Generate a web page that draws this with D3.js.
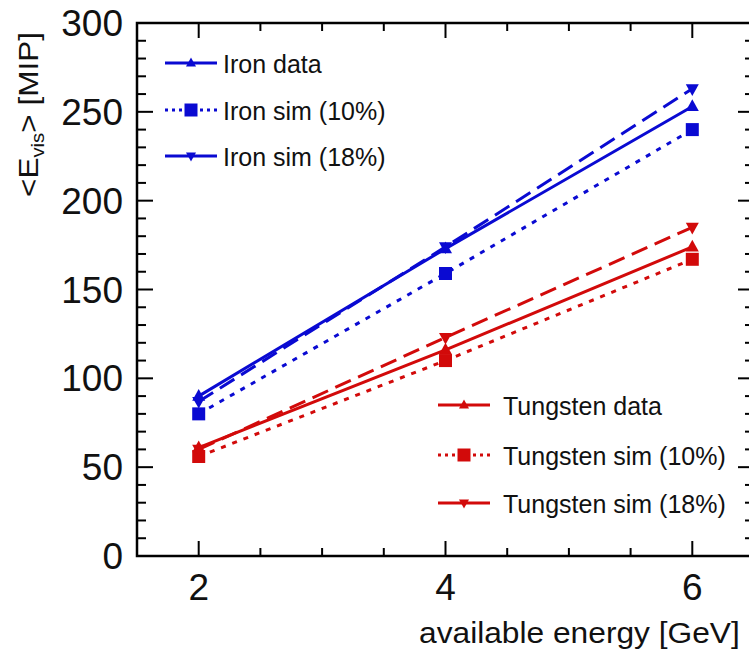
<!DOCTYPE html>
<html>
<head>
<meta charset="utf-8">
<script src="https://cdn.jsdelivr.net/npm/d3@7"></script>
<style>
  html, body { margin: 0; padding: 0; background: #fff; }
  svg { display: block; font-family: "Liberation Sans", Arial, sans-serif; }
</style>
</head>
<body>
<svg id="chart" width="749" height="653"></svg>
<script>
// Beam energies (GeV)
const energies = [2, 4, 6];

// Mean visible energy in MIP
const ironData    = [90, 173, 253];
const ironSim10   = [80, 159, 240];
const ironSim18   = [87, 174, 263];
const tungData    = [61, 116, 174];
const tungSim10   = [56, 110, 167];
const tungSim18   = [60, 123, 185];

const yTicks = [0, 50, 100, 150, 200, 250, 300];
const xTicks = [2, 4, 6];

const blue = "#0a0ad2";
const red = "#d20a0a";

const series = [
  { name: "Iron data",           values: ironData,  color: blue, dash: null,   marker: "up" },
  { name: "Iron sim (10%)",      values: ironSim10, color: blue, dash: "5,7",  marker: "square" },
  { name: "Iron sim (18%)",      values: ironSim18, color: blue, dash: "17,8", marker: "down" },
  { name: "Tungsten data",       values: tungData,  color: red,  dash: null,   marker: "up" },
  { name: "Tungsten sim (10%)",  values: tungSim10, color: red,  dash: "5,7",  marker: "square" },
  { name: "Tungsten sim (18%)",  values: tungSim18, color: red,  dash: "17,8", marker: "down" }
];

const svg = d3.select("#chart");
const mLeft = 137, mRight = 754, mTop = 23, mBottom = 556;

const x = d3.scaleLinear().domain([1.5, 6.5]).range([mLeft, mRight]);
const y = d3.scaleLinear().domain([0, 300]).range([mBottom, mTop]);

const plot = svg.append("g");

// frame
plot.append("rect")
  .attr("x", mLeft).attr("y", mTop)
  .attr("width", mRight - mLeft).attr("height", mBottom - mTop)
  .attr("fill", "none").attr("stroke", "#000").attr("stroke-width", 2.5);

// y ticks (major every 50, minor every 10), both sides
const yMinor = d3.range(0, 301, 10);
yMinor.forEach(v => {
  const major = v % 50 === 0;
  const len = major ? 16 : 9;
  plot.append("line").attr("x1", mLeft).attr("x2", mLeft + len)
    .attr("y1", y(v)).attr("y2", y(v)).attr("stroke", "#000").attr("stroke-width", 2);
  plot.append("line").attr("x1", mRight).attr("x2", mRight - len)
    .attr("y1", y(v)).attr("y2", y(v)).attr("stroke", "#000").attr("stroke-width", 2);
});

// x ticks (major every 2, minor every 0.5), bottom and top
const xMinor = d3.range(2, 6.01, 0.5);
xMinor.forEach(v => {
  const major = xTicks.includes(v);
  const len = major ? 15 : 8;
  plot.append("line").attr("x1", x(v)).attr("x2", x(v))
    .attr("y1", mBottom).attr("y2", mBottom - len).attr("stroke", "#000").attr("stroke-width", 2);
  plot.append("line").attr("x1", x(v)).attr("x2", x(v))
    .attr("y1", mTop).attr("y2", mTop + len).attr("stroke", "#000").attr("stroke-width", 2);
});

// tick labels
svg.selectAll(".ylab").data(yTicks).enter().append("text")
  .attr("x", 123).attr("y", d => y(d) + 13)
  .attr("text-anchor", "end").attr("font-size", 37).attr("fill", "#111")
  .text(d => d);

svg.selectAll(".xlab").data(xTicks).enter().append("text")
  .attr("x", d => x(d)).attr("y", 600)
  .attr("text-anchor", "middle").attr("font-size", 37).attr("fill", "#111")
  .text(d => d);

// axis titles, fitted to their span
const xt = svg.append("text")
  .attr("font-size", 30).attr("fill", "#111")
  .text("available energy [GeV]");
const xw = xt.node().getBBox().width;
xt.attr("transform", `translate(419,643) scale(${321 / xw},1)`);

const yt = svg.append("text")
  .attr("font-size", 28).attr("fill", "#111");
yt.append("tspan").text("<E");
yt.append("tspan").attr("font-size", 18).attr("dy", 6).text("vis");
yt.append("tspan").attr("dy", -6).text("> [MIP]");
const yw = yt.node().getBBox().width;
yt.attr("transform", `translate(38,197) rotate(-90) scale(${165 / yw},1)`);

// marker shapes
function markerPath(kind, s) {
  if (kind === "square") return `M${-s},${-s}H${s}V${s}H${-s}Z`;
  if (kind === "up") return `M0,${-s * 1.1}L${s},${s * 0.7}H${-s}Z`;
  return `M0,${s * 1.1}L${s},${-s * 0.7}H${-s}Z`;
}

const line = d3.line().x((d, i) => x(energies[i])).y(d => y(d));

series.forEach(s => {
  plot.append("path")
    .attr("d", line(s.values))
    .attr("fill", "none").attr("stroke", s.color)
    .attr("stroke-width", 3)
    .attr("stroke-dasharray", s.dash);
  plot.selectAll(null).data(s.values).enter().append("path")
    .attr("transform", (d, i) => `translate(${x(energies[i])},${y(d)})`)
    .attr("d", markerPath(s.marker, 6.5))
    .attr("fill", s.color);
});

// legends
function legend(items, lx, rows, tx) {
  items.forEach((s, i) => {
    const yy = rows[i];
    const g = svg.append("g");
    g.append("line").attr("x1", lx).attr("x2", lx + 52)
      .attr("y1", yy).attr("y2", yy)
      .attr("stroke", s.color).attr("stroke-width", 3)
      .attr("stroke-dasharray", s.marker === "square" ? "3,4" : null);
    g.append("path")
      .attr("transform", `translate(${lx + 26},${yy})`)
      .attr("d", markerPath(s.marker, s.marker === "square" ? 6.5 : 5))
      .attr("fill", s.color);
    g.append("text")
      .attr("x", tx).attr("y", yy + 10)
      .attr("font-size", 25).attr("fill", "#111")
      .text(s.name);
  });
}
legend(series.slice(0, 3), 165, [63, 110, 156], 223);
legend(series.slice(3), 438, [405, 455, 503], 503);
</script>
</body>
</html>
